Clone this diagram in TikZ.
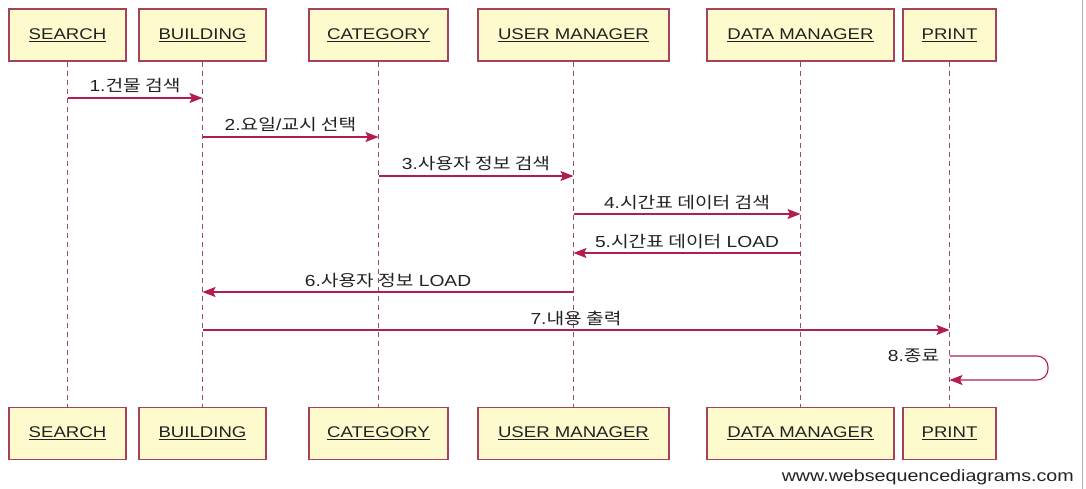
\documentclass[tikz,border=0pt]{standalone}
\usepackage{fontspec}
\setmainfont{Liberation Sans}[FakeStretch=1.2]
\newfontfamily\kr{Noto Sans CJK KR}[FakeStretch=1.2]
\usetikzlibrary{arrows.meta}
\definecolor{boxfill}{RGB}{253,251,206}
\definecolor{boxline}{RGB}{165,65,90}
\definecolor{lifec}{RGB}{150,75,105}
\definecolor{msgc}{RGB}{178,28,82}
\definecolor{txt}{RGB}{34,34,34}
\begin{document}
\begin{tikzpicture}[x=1pt,y=-1pt,
  box/.style={draw=boxline, line width=1.2pt, fill=boxfill, minimum height=52pt, inner sep=0pt,
    text=txt, font=\fontsize{15.5}{18}\selectfont},
  life/.style={draw=lifec, line width=1.1pt, dash pattern=on 5pt off 4pt},
  msg/.style={draw=msgc, line width=1.1pt, -{Stealth[length=13pt,width=10pt,inset=2.5pt]}},
  lbl/.style={anchor=base, yshift=6pt, inner sep=0pt, text=txt, font=\fontsize{16}{19}\selectfont}]
\useasboundingbox (0,0) rectangle (1086,489);
% top boxes
\node[box, minimum width=117pt] (s1) at (67.5,35) {\underline{SEARCH}};
\node[box, minimum width=127pt] (s2) at (202.5,35) {\underline{BUILDING}};
\node[box, minimum width=139pt] (s3) at (378.5,35) {\underline{CATEGORY}};
\node[box, minimum width=191pt] (s4) at (573.5,35) {\underline{USER MANAGER}};
\node[box, minimum width=187pt] (s5) at (800.5,35) {\underline{DATA MANAGER}};
\node[box, minimum width=93pt]  (s6) at (949.5,35) {\underline{PRINT}};
% bottom boxes
\node[box, minimum width=117pt] (b1) at (67.5,433.5) {\underline{SEARCH}};
\node[box, minimum width=127pt] (b2) at (202.5,433.5) {\underline{BUILDING}};
\node[box, minimum width=139pt] (b3) at (378.5,433.5) {\underline{CATEGORY}};
\node[box, minimum width=191pt] (b4) at (573.5,433.5) {\underline{USER MANAGER}};
\node[box, minimum width=187pt] (b5) at (800.5,433.5) {\underline{DATA MANAGER}};
\node[box, minimum width=93pt]  (b6) at (949.5,433.5) {\underline{PRINT}};
% lifelines
\foreach \i in {1,...,6} {\draw[life] (s\i.south) -- (b\i.north);}
% message rows
\coordinate (r1) at (0,98);
\coordinate (r2) at (0,137);
\coordinate (r3) at (0,176);
\coordinate (r4) at (0,214);
\coordinate (r5) at (0,253);
\coordinate (r6) at (0,292);
\coordinate (r7) at (0,330);
\coordinate (r8) at (0,356);
\coordinate (r9) at (0,380);
\draw[msg] (s1 |- r1) -- node[lbl] {1.{\kr 건물 검색}} (s2 |- r1);
\draw[msg] (s2 |- r2) -- node[lbl] {2.{\kr 요일}/{\kr 교시 선택}} (s3 |- r2);
\draw[msg] (s3 |- r3) -- node[lbl] {3.{\kr 사용자 정보 검색}} (s4 |- r3);
\draw[msg] (s4 |- r4) -- node[lbl] {4.{\kr 시간표 데이터 검색}} (s5 |- r4);
\draw[msg] (s5 |- r5) -- node[lbl] {5.{\kr 시간표 데이터} LOAD} (s4 |- r5);
\draw[msg] (s4 |- r6) -- node[lbl] {6.{\kr 사용자 정보} LOAD} (s2 |- r6);
\draw[msg] (s2 |- r7) -- node[lbl] {7.{\kr 내용 출력}} (s6 |- r7);
\draw[msg, rounded corners=11pt] (s6 |- r8) -- ([xshift=98.5pt]s6 |- r8) -- ([xshift=98.5pt]s6 |- r9) -- (s6 |- r9);
\node[anchor=east, inner sep=0pt, text=txt, font=\fontsize{16}{19}\selectfont] (l8) at ([xshift=-10pt]s6 |- r8) {8.{\kr 종료}};
% footer
\node[anchor=east, inner sep=0pt, text=txt, font=\fontsize{16.4}{19}\selectfont] (wm) at (1074,477) {www.websequencediagrams.com};
\draw[gray!60, line width=1pt] (1082,0) -- (1082,489);
\end{tikzpicture}
\end{document}
